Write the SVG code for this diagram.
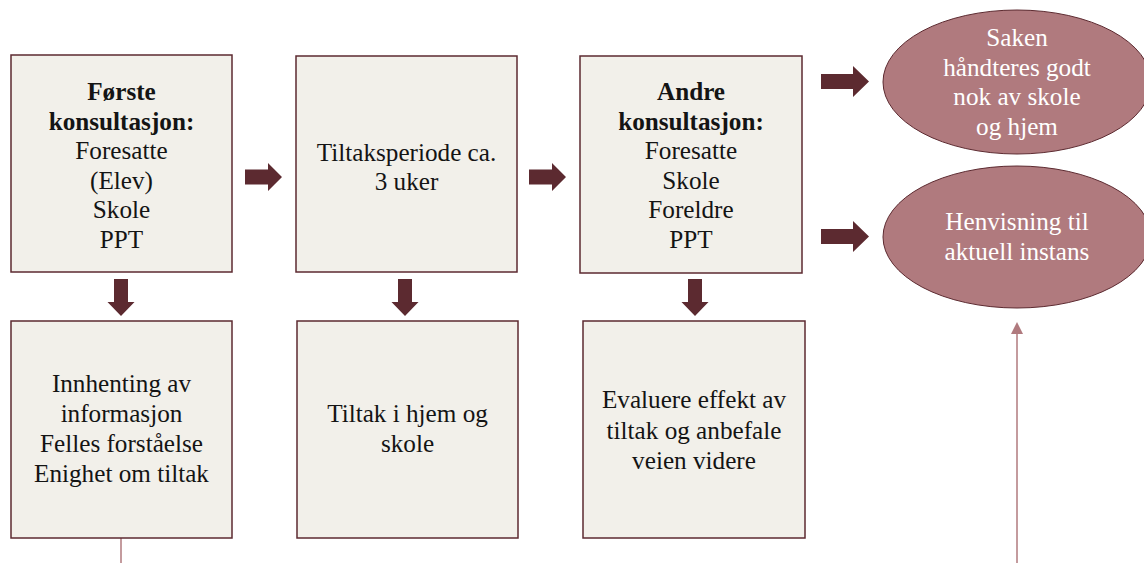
<svg xmlns="http://www.w3.org/2000/svg" width="1144" height="563" viewBox="0 0 1144 563">
<style>
.box{fill:#f2f0ea;stroke:#5c2a30;stroke-width:1.5}
.ell{fill:#b07a7e;stroke:#5c2a30;stroke-width:1}
.t{font-family:'Liberation Serif','Tinos','Times New Roman','DejaVu Serif',serif;font-size:25.2px;fill:#141414;text-anchor:middle}
.b{font-weight:bold}
.w{fill:#ffffff}
.arr{fill:#5c2a30}
.thin{stroke:#b07a7e;stroke-width:1.5;fill:none}
</style>
<rect width="1144" height="563" fill="#ffffff"/>
<g id="connectors">
<path class="arr" d="M245,169.5 H268 V163 L282,177 L268,191 V184.5 H245 Z"/>
<path class="arr" d="M529,169.5 H552 V163 L566,177 L552,191 V184.5 H529 Z"/>
<path class="arr" d="M821,74 H853 V66 L869,81.5 L853,97 V89 H821 Z"/>
<path class="arr" d="M821,229 H853 V221 L869,236.5 L853,252 V244 H821 Z"/>
<path class="arr" d="M114,279 H128 V302 H134.5 L121,316 L107.5,302 H114 Z"/>
<path class="arr" d="M398,279 H412 V302 H418.5 L405,316 L391.5,302 H398 Z"/>
<path class="arr" d="M688,279 H702 V302 H708.5 L695,316 L681.5,302 H688 Z"/>
<line class="thin" x1="121" y1="538" x2="121" y2="563"/>
<line class="thin" x1="1017" y1="563" x2="1017" y2="333"/>
<path d="M1011,334 L1017,322 L1023,334 Z" fill="#b07a7e"/>
</g>
<g id="n1">
<rect class="box" x="11" y="55" width="221" height="217"/>
<text class="t b" x="121.5" y="100">Første</text>
<text class="t b" x="121.5" y="129.6">konsultasjon:</text>
<text class="t" x="121.5" y="159.2">Foresatte</text>
<text class="t" x="121.5" y="188.8">(Elev)</text>
<text class="t" x="121.5" y="218.4">Skole</text>
<text class="t" x="121.5" y="248">PPT</text>
</g>
<g id="n2">
<rect class="box" x="296" y="56" width="221" height="216"/>
<text class="t" x="406.5" y="161">Tiltaksperiode ca.</text>
<text class="t" x="406.5" y="190">3 uker</text>
</g>
<g id="n3">
<rect class="box" x="580" y="56" width="222" height="217"/>
<text class="t b" x="691" y="100">Andre</text>
<text class="t b" x="691" y="129.6">konsultasjon:</text>
<text class="t" x="691" y="159.2">Foresatte</text>
<text class="t" x="691" y="188.8">Skole</text>
<text class="t" x="691" y="218.4">Foreldre</text>
<text class="t" x="691" y="248">PPT</text>
</g>
<g id="n4">
<ellipse class="ell" cx="1017" cy="82" rx="134" ry="72"/>
<text class="t w" x="1017" y="46">Saken</text>
<text class="t w" x="1017" y="75.5">håndteres godt</text>
<text class="t w" x="1017" y="105">nok av skole</text>
<text class="t w" x="1017" y="134.5">og hjem</text>
</g>
<g id="n5">
<ellipse class="ell" cx="1017" cy="237" rx="134" ry="71"/>
<text class="t w" x="1017" y="230">Henvisning til</text>
<text class="t w" x="1017" y="260">aktuell instans</text>
</g>
<g id="n6">
<rect class="box" x="11" y="321" width="221" height="217"/>
<text class="t" x="121.5" y="392">Innhenting av</text>
<text class="t" x="121.5" y="422">informasjon</text>
<text class="t" x="121.5" y="452">Felles forståelse</text>
<text class="t" x="121.5" y="482">Enighet om tiltak</text>
</g>
<g id="n7">
<rect class="box" x="297" y="321" width="221" height="217"/>
<text class="t" x="407.5" y="422">Tiltak i hjem og</text>
<text class="t" x="407.5" y="452">skole</text>
</g>
<g id="n8">
<rect class="box" x="583" y="321" width="222" height="217"/>
<text class="t" x="694" y="408">Evaluere effekt av</text>
<text class="t" x="694" y="438.5">tiltak og anbefale</text>
<text class="t" x="694" y="469">veien videre</text>
</g>
</svg>
